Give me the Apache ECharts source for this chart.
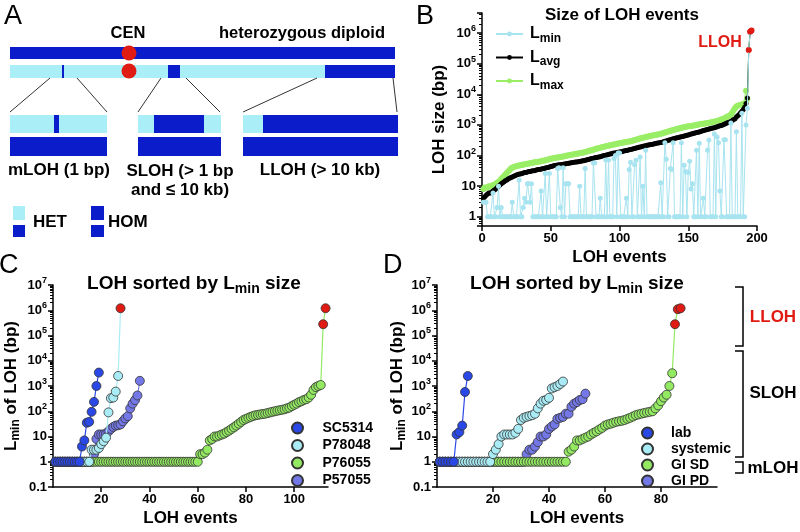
<!DOCTYPE html>
<html><head><meta charset="utf-8">
<script src="https://cdn.jsdelivr.net/npm/echarts@6/dist/echarts.min.js"></script>
<style>html,body{margin:0;padding:0;background:#fff}#c{width:800px;height:532px}</style>
</head><body><div id="c"></div>
<script>
// ================= DATA =================
// Panel B: size of LOH events (196 events, sorted)
const bLmin = [
3,3,3,1,1,1,1,6,1,1,
2,10,1,2,1,1,1,1,1,1,
1,3,1,1,1,1,16,1,1,2,
4,3,12,12,3,12,1,1,1,1,
1,1,7,1,1,26,1,1,26,1,
1,1,1,1,38,40,2,1,40,1,
12,12,12,1,1,1,1,1,1,1,
10,1,1,1,38,1,1,1,1,1,
57,57,1,1,1,4,1,1,1,72,
1,72,1,1,1,80,100,1,120,120,
1,1,1,1,4,1,35,60,1,1,
50,70,1,1,90,1,10,1,150,1,
1,1,1,1,1,1,1,1,1,13,
1,1,260,75,1,1,38,35,260,1,
1,1,1,1,260,1,48,30,1,28,
65,8,12,1,1,150,1,250,1,1,
4,1,1,150,320,1,1,1,500,1,
400,260,7,1,1,330,330,1,1,1,
1150,1,1,1,600,1,1,1,2400,1,
1,1000,3500,280000,1100000,1200000];
const bLavg = [
4,4.5,5,5.5,6,6,6.5,7,7.5,8,
9,10,11,12,13,14,15,16,17,18,
19,20,21,22,23,24,25,25,26,27,
28,28,29,30,30,31,32,32,33,34,
35,35,36,37,38,39,40,41,42,44,
45,46,47,48,49,50,50,51,52,53,
54,55,56,57,58,59,60,61,62,63,
64,65,67,68,70,72,74,76,78,80,
82,84,86,88,90,92,95,98,100,103,
106,109,112,115,118,120,122,125,128,130,
133,136,140,143,146,150,153,156,160,165,
170,175,180,185,190,195,200,205,210,215,
220,225,230,235,240,245,250,255,260,265,
270,280,290,300,310,320,330,340,350,360,
370,380,390,400,410,420,430,440,455,470,
485,500,515,530,545,560,575,590,610,630,
650,670,690,710,730,750,770,790,810,840,
870,900,930,960,1000,1050,1100,1150,1200,1250,
1300,1400,1500,1600,1800,2000,2200,2500,2800,3200,
3800,5000,7500,280000,1100000,1200000];
const bLmax = [
8,9,9,9,10,10,10,11,11,12,
13,14,15,17,19,21,24,27,30,33,
38,40,42,44,45,46,47,48,50,50,
52,53,54,55,56,57,58,60,60,62,
63,64,65,67,68,70,72,74,75,78,
80,82,84,85,86,88,90,92,93,95,
97,100,102,104,106,108,110,112,114,116,
118,120,123,126,130,134,138,142,146,150,
155,160,165,170,175,180,185,190,195,200,
205,210,215,220,225,230,235,240,245,250,
255,260,265,270,275,280,285,290,300,310,
320,330,340,350,360,370,380,390,400,410,
420,430,440,450,460,470,480,490,500,510,
520,540,560,580,600,620,640,660,680,700,
720,740,760,780,800,820,840,860,880,900,
900,920,940,960,980,1000,1020,1040,1060,1080,
1100,1120,1140,1160,1180,1200,1220,1250,1280,1300,
1350,1400,1450,1500,1550,1600,1700,1800,1900,2000,
2200,2500,3000,3500,4000,4200,4400,4500,4600,4800,
5000,13000,7000,280000,1100000,1200000];
const bNames = ['Lmin','Lavg','Lmax'];

// Panel C: LOH sorted by Lmin size, per strain
const cNames = ['SC5314','P78048','P76055','P57055'];
const cSC5314 = [1,1,1,1,1,1,1,1,1,1,1,4,7,35,38,95,235,1000,3400];
const cP78048 = [1,1,1,1,1,1,1,1,1,1,1,1,1,1,1,3,3,3,3.5,5,6.5,9,90,330,350,600,2500,1200000];
const cP76055 = [
1,1,1,1,1,1,1,1,1,1,1,1,1,1,1,1,1,1,1,1,
1,1,1,1,1,1,1,1,1,1,1,1,1,1,1,1,1,1,1,1,
1,1,1,1,1,1,1,1,1,1,1,1,1,1,1,1,1,1,1,1,
2,2,2.3,3,7,8,10,10,11,12,
13,15,17,20,23,27,32,38,45,50,
55,60,65,70,72,75,78,80,85,90,
95,100,105,110,115,120,130,140,160,180,
200,230,250,280,300,350,450,700,900,1000,
1100,280000,1200000];
const cP57055 = [1,1,1,1,1,1,1,1,1,1,1,1,1,1,1,1,2,8,12,12,12,13,16,20,24,27,28,30,40,52,64,130,200,275,420,1600];

// Panel D: LOH sorted by Lmin size, per isolation site
const dNames = ['lab','systemic','GI SD','GI PD'];
const dLab = [1,1,1,1,1,1,12,15,27,580,2500];
const dSystemic = [1,1,1,1,1,1,1,1,1,1,1,1,1,1,1,1,1,1,1,
2,3,5,10,12,12,12,12,14,20,45,55,60,65,70,80,130,200,260,280,340,800,900,1000,1200,1500];
const dGISD = [
1,1,1,1,1,1,1,1,1,1,1,1,1,1,1,1,1,1,1,1,1,1,1,
1,1,1,1,1,1,1,1,1,1,1,1,1,1,1,1,1,1,1,1,1,1,1,
2.5,3,4,7,7,8,9,10,12,14,16,19,22,27,30,32,35,38,40,42,45,50,55,62,
70,75,80,85,90,95,100,130,170,250,350,450,1000,3200,280000,1100000,1200000];
const dGIPD = [1,1,1,1,1,1,1,1,1,1,1,1,1,1,1,1,1,1,1,1,1,1,1,1,1,1,1,1,1,1,1,
2,3,3,4,6,10,10,12,20,25,30,50,55,60,80,80,150,200,230,280,300,500];

// Axis tick labels
const bXTicks = [0,50,100,150,200];
const cdXTicks = [20,40,60,80,100];
const dXTicks = [20,40,60,80];

// ================= STYLE =================
const FONT = '"Liberation Sans", Arial, Helvetica, sans-serif';
const RED = '#e01b14';
const DARK = '#0b1ccb';
const LIGHT = '#aaeef8';
const LLOH_MIN = 1e5;
const C_BLUE = '#2a48e6', C_CYAN = '#aaecf5', C_GREEN = '#93ea62', C_PURPLE = '#7478e6';

function pts(arr) {
  return arr.map((v, i) => v >= LLOH_MIN
    ? {value: [i + 1, v], itemStyle: {color: RED}}
    : [i + 1, v]);
}
function logLabel(v) {
  const e = Math.log10(v), r = Math.round(e);
  if (Math.abs(e - r) > 1e-6) return '';
  if (r === -1) return '0.1';
  if (r === 0) return '1';
  if (r === 1) return '10';
  return '{b|10}{p|' + r + '}';
}
const supRich = {
  b: {fontSize: 13, fontWeight: 'bold', fontFamily: FONT, color: '#000'},
  p: {fontSize: 9, fontWeight: 'bold', fontFamily: FONT, color: '#000', padding: [0, 0, 9, 0]}
};
const axisLineS = {show: true, onZero: false, lineStyle: {color: '#000', width: 1.5}};
const axisTickS = {show: true, length: 5, lineStyle: {color: '#000', width: 1.5}};
const nameStyle = {fontSize: 17, fontWeight: 'bold', color: '#000', fontFamily: FONT};
const subNameRich = {
  L: {fontSize: 17, fontWeight: 'bold', color: '#000', fontFamily: FONT},
  s: {fontSize: 12, fontWeight: 'bold', color: '#000', fontFamily: FONT, padding: [9, 0, 0, 0]},
  t: {fontSize: 17, fontWeight: 'bold', color: '#000', fontFamily: FONT}
};

function logY(gi, min, max, gap, name) {
  return {
    gridIndex: gi, type: 'log', logBase: 10, min: min, max: max,
    axisLine: axisLineS, axisTick: axisTickS,
    minorTick: {show: true, splitNumber: 9, length: 3, lineStyle: {color: '#000', width: 1}},
    splitLine: {show: false}, minorSplitLine: {show: false},
    axisLabel: {formatter: logLabel, rich: supRich, fontSize: 13, fontWeight: 'bold', color: '#000', fontFamily: FONT, margin: 6},
    name: name, nameLocation: 'middle', nameGap: gap,
    nameTextStyle: Object.assign({}, nameStyle, {rich: subNameRich})
  };
}
function linX(gi, min, max, ticks, gap) {
  return {
    gridIndex: gi, type: 'value', min: min, max: max,
    axisLine: axisLineS, axisTick: Object.assign({}, axisTickS, {customValues: ticks}),
    splitLine: {show: false},
    axisLabel: {customValues: ticks, fontSize: 13, fontWeight: 'bold', color: '#000', fontFamily: FONT, margin: 6},
    name: 'LOH events', nameLocation: 'middle', nameGap: gap, nameTextStyle: nameStyle
  };
}
function circleSeries(name, arr, color, xi, z) {
  return {
    name: name, type: 'line', xAxisIndex: xi, yAxisIndex: xi, data: pts(arr),
    symbol: 'circle', symbolSize: 9, showSymbol: true, z: z,
    lineStyle: {color: color, width: 1.2},
    itemStyle: {color: color, borderColor: '#333', borderWidth: 0.8},
    emphasis: {disabled: true}, animation: false
  };
}
function bSeries(name, arr, color, size, z) {
  return {
    name: name, type: 'line', xAxisIndex: 0, yAxisIndex: 0, data: pts(arr),
    symbol: 'circle', symbolSize: size, showSymbol: true, z: z,
    lineStyle: {color: color, width: 1},
    itemStyle: {color: color},
    emphasis: {disabled: true}, animation: false
  };
}
const legText = {fontSize: 14, fontWeight: 'bold', color: '#000', fontFamily: FONT};

// Panel A schematic + annotations (graphic)
const g = [];
function rect(x, y, w, h, c) { g.push({type: 'rect', shape: {x: x, y: y, width: w, height: h}, style: {fill: c}, silent: true}); }
function line(x1, y1, x2, y2, w) { g.push({type: 'line', shape: {x1: x1, y1: y1, x2: x2, y2: y2}, style: {stroke: '#000', lineWidth: w || 0.8}, silent: true}); }
function txt(t, x, y, size, opts) {
  g.push({type: 'text', x: x, y: y, silent: true, z: 10, style: Object.assign({
    text: t, fontSize: size, fontWeight: 'bold', fontFamily: FONT, fill: '#000', align: 'center', verticalAlign: 'middle'}, opts || {})});
}
// chromosomes
rect(10, 47, 385, 12, DARK);
rect(10, 65, 385, 13, LIGHT);
rect(62, 65, 2, 13, DARK);
rect(168, 65, 12, 13, DARK);
rect(325, 65, 70, 13, DARK);
g.push({type: 'circle', shape: {cx: 129, cy: 53, r: 7.5}, style: {fill: RED}, silent: true, z: 5});
g.push({type: 'circle', shape: {cx: 129, cy: 71, r: 7.5}, style: {fill: RED}, silent: true, z: 5});
line(50, 78, 10, 112); line(77, 78, 107, 112);
line(161, 78, 138, 112); line(186, 78, 220, 112);
line(317, 78, 243, 112); line(393, 78, 397, 112);
rect(10, 115, 97, 18, LIGHT); rect(54, 115, 5, 18, DARK); rect(10, 137, 97, 19, DARK);
rect(138, 115, 83, 18, LIGHT); rect(154, 115, 50, 18, DARK); rect(138, 137, 83, 19, DARK);
rect(243, 115, 155, 18, DARK); rect(243, 115, 20, 18, LIGHT); rect(243, 137, 155, 19, DARK);
txt('CEN', 128, 33, 16.5);
txt('heterozygous diploid', 302, 33, 16.5);
txt('mLOH (1 bp)', 59, 170, 17);
txt('SLOH (> 1 bp', 180, 171, 17);
txt('and \u2264 10 kb)', 180, 190, 17);
txt('LLOH (> 10 kb)', 320, 170, 17);
rect(13, 206, 12, 14, LIGHT); rect(13, 225, 12, 12, DARK);
txt('HET', 33, 222, 17, {align: 'left'});
rect(91, 206, 13, 14, DARK); rect(91, 225, 13, 12, DARK);
txt('HOM', 108, 222, 17, {align: 'left'});
// panel letters
txt('A', 4, 17, 27, {align: 'left', fontWeight: 'normal'});
txt('B', 416, 17, 27, {align: 'left', fontWeight: 'normal'});
txt('C', -1, 266, 27, {align: 'left', fontWeight: 'normal'});
txt('D', 383, 266, 27, {align: 'left', fontWeight: 'normal'});
// titles
txt('Size of LOH events', 622, 15, 17);
const titleRich = {
  t: {fontSize: 19, fontWeight: 'bold', fontFamily: FONT, fill: '#000'},
  s: {fontSize: 14, fontWeight: 'bold', fontFamily: FONT, fill: '#000', padding: [10, 0, 0, 0]}
};
txt('{t|LOH sorted by L}{s|min}{t| size}', 194, 284, 19, {rich: titleRich});
txt('{t|LOH sorted by L}{s|min}{t| size}', 577, 284, 19, {rich: titleRich});
txt('LLOH', 720, 43, 16, {fill: RED});
// D brackets
function bracket(y1, y2) {
  g.push({type: 'polyline', shape: {points: [[735, y1], [743, y1], [743, y2], [735, y2]]},
    style: {stroke: '#000', lineWidth: 1.5, fill: null}, silent: true});
}
bracket(287, 346); bracket(351, 457); bracket(462, 473);
txt('LLOH', 773, 317, 17, {fill: RED});
txt('SLOH', 773, 393, 17);
txt('mLOH', 773, 468, 17);

const option = {
  animation: false,
  backgroundColor: '#fff',
  grid: [
    {left: 482, top: 13, width: 275, height: 213, containLabel: false, outerBoundsMode: 'none'},
    {left: 53, top: 285, width: 275, height: 202, containLabel: false, outerBoundsMode: 'none'},
    {left: 437, top: 285, width: 280, height: 202, containLabel: false, outerBoundsMode: 'none'}
  ],
  xAxis: [
    linX(0, 0, 200, bXTicks, 23),
    linX(1, 0, 114, cdXTicks, 23),
    linX(2, 0, 100, dXTicks, 23)
  ],
  yAxis: [
    logY(0, 0.5, 4.5e6, 34, 'LOH size (bp)'),
    logY(1, 0.1, 1e7, 31, '{L|L}{s|min}{t| of LOH (bp)}'),
    logY(2, 0.1, 1e7, 29, '{L|L}{s|min}{t| of LOH (bp)}')
  ],
  legend: [
    {data: bNames, left: 490, top: 21, orient: 'vertical', itemWidth: 27, itemHeight: 6, itemGap: 5,
      selectedMode: false,
      formatter: n => '{L|L}{s|' + n.slice(1) + '}',
      textStyle: {rich: {
        L: {fontSize: 16, fontWeight: 'bold', fontFamily: FONT, color: '#000', padding: [0, 0, 0, 2]},
        s: {fontSize: 12, fontWeight: 'bold', fontFamily: FONT, color: '#000', padding: [9, 0, 0, 0]}}}},
    {data: cNames, left: 286, top: 416, orient: 'vertical', icon: 'circle', itemWidth: 40, itemHeight: 11, itemGap: 3.5,
      selectedMode: false, textStyle: legText},
    {data: dNames, left: 636, top: 421, orient: 'vertical', icon: 'circle', itemWidth: 37, itemHeight: 11, itemGap: 2,
      selectedMode: false, textStyle: legText}
  ],
  series: [
    bSeries('Lmax', bLmax, '#99ee66', 6, 2),
    bSeries('Lavg', bLavg, '#000000', 5, 3),
    bSeries('Lmin', bLmin, '#a8e4f0', 5, 4),
    circleSeries('P57055', cP57055, C_PURPLE, 1, 2),
    circleSeries('P76055', cP76055, C_GREEN, 1, 3),
    circleSeries('P78048', cP78048, C_CYAN, 1, 4),
    circleSeries('SC5314', cSC5314, C_BLUE, 1, 5),
    circleSeries('GI PD', dGIPD, C_PURPLE, 2, 2),
    circleSeries('GI SD', dGISD, C_GREEN, 2, 3),
    circleSeries('systemic', dSystemic, C_CYAN, 2, 4),
    circleSeries('lab', dLab, C_BLUE, 2, 5)
  ],
  graphic: g
};
const chart = echarts.init(document.getElementById('c'), null, {renderer: 'canvas'});
chart.setOption(option);
</script>
</body></html>
